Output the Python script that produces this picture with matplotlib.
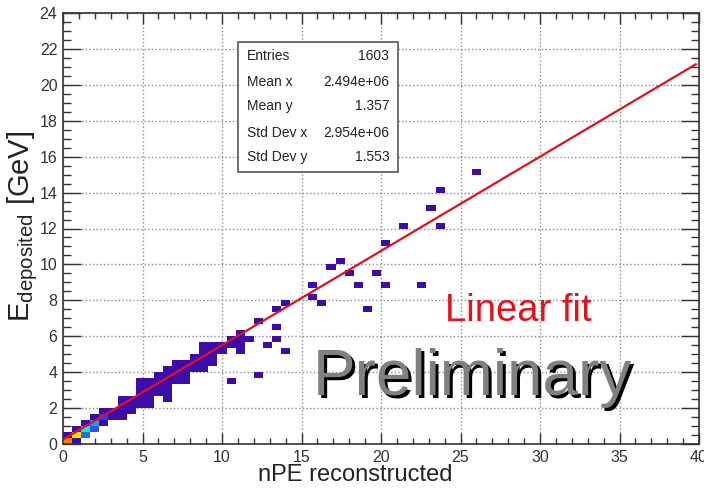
import numpy as np
import matplotlib.pyplot as plt
from matplotlib.colors import LinearSegmentedColormap
from matplotlib.patches import Rectangle
from matplotlib.transforms import offset_copy

plt.rcParams['font.family'] = ['Liberation Sans', 'DejaVu Sans']
plt.rcParams['mathtext.fontset'] = 'custom'
plt.rcParams['mathtext.rm'] = 'Liberation Sans'
plt.rcParams['mathtext.it'] = 'Liberation Sans:italic'

# binning of the 2D histogram
x_edges = np.linspace(0, 40, 71)
y_edges = np.linspace(0, 24, 73)

# dense band: per column, lower / upper edge of filled cells [GeV]
band_x = [0.3, 0.9, 1.4, 2.0, 2.6, 3.1, 3.7, 4.3, 4.9, 5.4, 6.0, 6.6, 7.1, 7.7,
          8.3, 8.9, 9.4, 10.0, 10.6, 11.1, 11.7]
band_lo = [0, 0, 0.33, 0.67, 1.0, 1.33, 1.33, 1.67, 2.0, 2.0, 2.67, 2.33, 3.33,
           3.33, 4.0, 4.0, 4.33, 5.0, 5.33, 5.33, 5.67]
band_hi = [0.67, 1.0, 1.33, 1.67, 2.0, 2.0, 2.67, 2.67, 3.67, 3.67, 4.0, 4.33,
           4.67, 4.67, 5.0, 5.67, 5.67, 5.67, 6.0, 6.33, 6.0]
band_n = 5

# isolated entries
iso_x = [10.6, 11.1, 12.3, 12.8, 13.4, 14.0, 13.4, 12.3, 13.4, 14.0, 15.65, 15.65,
         16.2, 16.8, 17.4, 17.9, 18.5, 19.1, 19.75, 20.25, 20.25, 21.4, 22.5,
         23.1, 23.7, 23.7, 25.97]
iso_y = [3.6, 5.05, 3.96, 5.35, 5.7, 5.05, 6.4, 6.7, 7.35, 7.7, 8.07, 8.74,
         7.74, 9.8, 10.1, 9.47, 8.74, 7.4, 9.47, 8.74, 11.1, 12.2, 8.74,
         13.2, 12.2, 14.25, 15.26]
iso_n = 3

# high occupancy cells near the origin
hot_x = [0.3, 0.9, 1.4, 1.4, 2.0, 2.0, 2.6]
hot_y = [0.17, 0.5, 0.83, 0.5, 1.17, 0.83, 1.5]
hot_n = [425, 360, 215, 110, 140, 90, 70]

# linear fit
fit_slope = 0.525
fit_offset = 0.25

stats_names = ['Entries', 'Mean x', 'Mean y', 'Std Dev x', 'Std Dev y']
stats_values = ['1603', '2.494e+06', '1.357', '2.954e+06', '1.553']

cell_x, cell_y, cell_n = [], [], []
y_centers = 0.5 * (y_edges[1:] + y_edges[:-1])
for bx, lo, hi in zip(band_x, band_lo, band_hi):
    for yc in y_centers[(y_centers > lo) & (y_centers < hi)]:
        cell_x.append(bx)
        cell_y.append(yc)
        cell_n.append(band_n)
cell_x += iso_x
cell_y += iso_y
cell_n += [iso_n] * len(iso_x)
cell_x += hot_x
cell_y += hot_y
cell_n += hot_n

root_pal = LinearSegmentedColormap.from_list('pretty', [
    (0.0, '#3d0aa5'), (0.15, '#2a3ee0'), (0.3, '#1f9ef0'), (0.45, '#2fe0c8'),
    (0.6, '#a8f030'), (0.72, '#f2ea00'), (0.85, '#f39000'), (1.0, '#e00000')])

fig = plt.figure(figsize=(7.04, 4.88), dpi=100)
ax = fig.add_axes([63/704, 44/488, 636/704, 431/488])
ax.set_axisbelow(True)
ax.grid(True, which='major', linestyle=':', color='#8c8c8c', linewidth=1.0)

ax.hist2d(cell_x, cell_y, bins=[x_edges, y_edges], weights=cell_n,
          cmap=root_pal, vmin=0, vmax=500, cmin=0.5)

fx = np.linspace(0.1, 39.8, 50)
ax.plot(fx, fit_offset + fit_slope * fx, color='#e3101e', lw=1.6)

ax.set_xlim(0, 40)
ax.set_ylim(0, 24)
ax.set_xticks(np.arange(0, 41, 5))
ax.set_xticks(np.arange(0, 41, 1), minor=True)
ax.set_yticks(np.arange(0, 25, 2))
ax.set_yticks(np.arange(0, 24.1, 0.5), minor=True)
ax.tick_params(axis='both', which='both', direction='in', top=True, right=True,
               colors='#333333', labelsize=11.5, width=1.0)
ax.tick_params(axis='x', which='major', length=8, pad=4)
ax.tick_params(axis='x', which='minor', length=4)
ax.tick_params(axis='y', which='major', length=13, pad=4)
ax.tick_params(axis='y', which='minor', length=6)
for s in ax.spines.values():
    s.set_color('#333333')
    s.set_linewidth(1.2)

ax.set_xlabel('nPE reconstructed', fontsize=17, color='#222222')
ax.xaxis.set_label_coords(0.459, -0.047)
ax.set_ylabel(r'E$_{\mathrm{deposited}}$ [GeV]', fontsize=21, color='#222222')
ax.yaxis.set_label_coords(-0.036, 0.505)

# stats box
ax.add_patch(Rectangle((0.275, 0.631), 0.252, 0.302, transform=ax.transAxes,
                       facecolor='white', edgecolor='#555555', lw=1.2, zorder=5))
row_y = [0.900, 0.840, 0.784, 0.722, 0.666]
for name, val, ry in zip(stats_names, stats_values, row_y):
    ax.text(0.289, ry, name, transform=ax.transAxes, fontsize=10, va='center',
            color='#222222', zorder=6)
    ax.text(0.513, ry, val, transform=ax.transAxes, fontsize=10, va='center',
            ha='right', color='#222222', zorder=6)

ax.text(0.601, 0.285, 'Linear fit', transform=ax.transAxes, fontsize=27.5,
        color='#e3101e', va='baseline')
shadow = offset_copy(ax.transAxes, fig=fig, x=3, y=-3, units='dots')
ax.text(0.392, 0.114, 'Preliminary', transform=shadow, fontsize=46,
        color='black', va='baseline', zorder=7)
ax.text(0.392, 0.114, 'Preliminary', transform=ax.transAxes, fontsize=46,
        color='#808080', va='baseline', zorder=8)

fig.savefig('out.png', dpi=100)
